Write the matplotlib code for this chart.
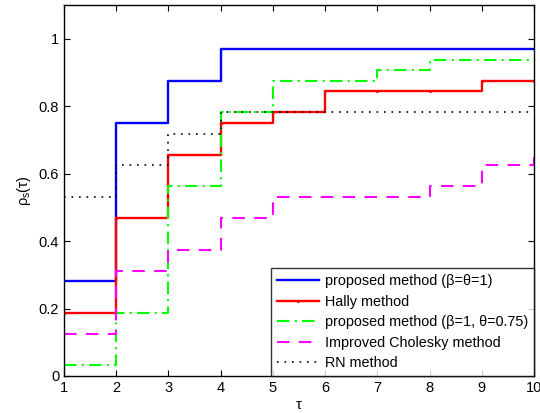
import matplotlib
matplotlib.use("Agg")
import matplotlib.pyplot as plt
import numpy as np

plt.rcParams['font.family'] = ['Liberation Sans', 'DejaVu Sans']
plt.rcParams['mathtext.fontset'] = 'custom'
plt.rcParams['mathtext.rm'] = 'Liberation Sans'
plt.rcParams['mathtext.it'] = 'Liberation Sans'

tau = [1, 2, 3, 4, 5, 6, 7, 8, 9, 10]
proposed_1 = [0.28125, 0.75, 0.875, 0.96875, 0.96875, 0.96875, 0.96875, 0.96875, 0.96875, 0.96875]
hally = [0.1875, 0.46875, 0.65625, 0.75, 0.78125, 0.84375, 0.84375, 0.84375, 0.875, 0.875]
proposed_075 = [0.03125, 0.1875, 0.5625, 0.78125, 0.875, 0.875, 0.90625, 0.9375, 0.9375, 0.9375]
cholesky = [0.125, 0.3125, 0.375, 0.46875, 0.53125, 0.53125, 0.53125, 0.5625, 0.625, 0.65625]
rn = [0.53125, 0.625, 0.71875, 0.78125, 0.78125, 0.78125, 0.78125, 0.78125, 0.78125, 0.78125]

labels = ['proposed method (\u03b2=\u03b8=1)', 'Hally method',
          'proposed method (\u03b2=1, \u03b8=0.75)', 'Improved Cholesky method', 'RN method']

fig = plt.figure(figsize=(5.4, 4.13), dpi=100)
ax = fig.add_axes([0.1185, 0.0896, 0.8705, 0.8984])

x = np.array(tau, dtype=float)
ax.step(x, proposed_1, where='post', color='#0000ff', lw=1.7, label=labels[0])
ax.step(x, hally, where='post', color='#ff0000', lw=1.7, marker='.', markersize=2.5, label=labels[1])
ax.step(x, proposed_075, where='post', color='#00ff00', lw=1.5, linestyle=(0, (6, 2.5, 1, 2.5)), label=labels[2])
ax.step(x, cholesky, where='post', color='#ff00ff', lw=1.5, linestyle=(0, (6, 4.5)), label=labels[3])
ax.step(x, rn, where='post', color='#000000', lw=1.2, linestyle=(0, (1, 3.5)), label=labels[4])

ax.set_xlim(1, 10)
ax.set_ylim(0, 1.1)
ax.set_xticks(range(1, 11))
ax.set_yticks([0, 0.2, 0.4, 0.6, 0.8, 1.0])
ax.set_yticklabels(['0', '0.2', '0.4', '0.6', '0.8', '1'])
ax.tick_params(direction='in', top=True, right=True, labelsize=10.5, length=4)
for s in ax.spines.values():
    s.set_linewidth(1.0)

ax.set_xlabel('\u03c4', fontsize=10.5, labelpad=2)
ax.set_ylabel('\u03c1$_\\mathregular{s}$(\u03c4)', fontsize=10.5, labelpad=4)

leg = ax.legend(loc='lower right', fontsize=10.4, frameon=True, fancybox=False,
                edgecolor='black', handlelength=2.9, borderaxespad=0, labelspacing=0.45,
                handletextpad=0.45, borderpad=0.4)
leg.get_frame().set_linewidth(1.0)

fig.savefig('out.png', dpi=100)
